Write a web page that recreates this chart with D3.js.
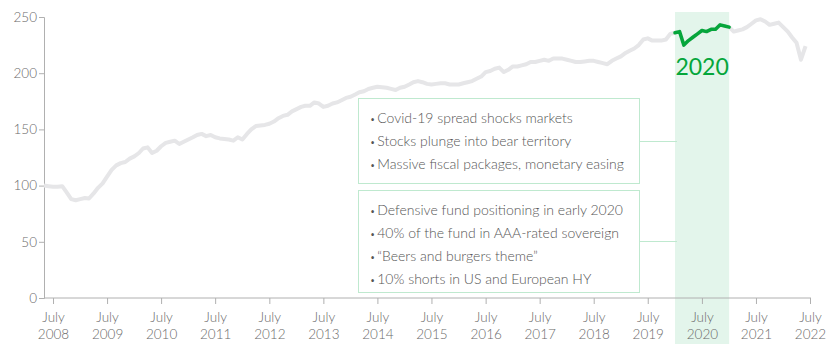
<!DOCTYPE html>
<html><head><meta charset="utf-8">
<script src="https://cdn.jsdelivr.net/npm/d3@7"></script>
<style>
html,body{margin:0;padding:0;background:#fff;}
svg{display:block;font-family:"Lato","Noto Sans",sans-serif;font-weight:300;}
</style></head><body>
<svg id="c" width="834" height="359"></svg>
<script>
const startMonth = "2008-05";
const values = [100,99.5,99,99,99.5,94,88,87,88,89,88.5,93,98,102,108,114,118,120,121,124,126,129,133,134,129,131,135,138,139,140,137,139,141,143,145,146,144,145,143,142,141.5,141,140,143,141,146,150,153,153.5,154,155,157,160,162,163,166,168,170,171,171,174,173,170,171,173,174,176,178,179,181,183,184,186,187,188,187.5,187,186,185,187,188,190,192,193,192,190.5,190,190.5,191,191,190,190,190,191,192,193,195,197,201,202,204,205,201,203,206,206,207,208,210,210,211,212,211,213,213,213,212,211,210,210,210.5,211,211,210,209,208,211,213,215,218,220,222,225,230,231,229,229,229,230,235,236,237,225,229,232,235,238,237,239,239,243,242,241,237,238,239,241,244,247,248,246,243,244,245,241,237,232,227,212,224];
const highlightStart = "2020-01", highlightEnd = "2021-01";
const highlightLabel = "2020";
const yTicks = [0,50,100,150,200,250];
const xTickYears = [2008,2009,2010,2011,2012,2013,2014,2015,2016,2017,2018,2019,2020,2021,2022];
const box1 = ["Covid-19 spread shocks markets","Stocks plunge into bear territory","Massive fiscal packages, monetary easing"];
const box2 = ["Defensive fund positioning in early 2020","40% of the fund in AAA-rated sovereign","\u201CBeers and burgers theme\u201D","10% shorts in US and European HY"];

const parse = d3.timeParse("%Y-%m");
const t0 = parse(startMonth);
const data = values.map((v,i)=>({date:d3.timeMonth.offset(t0,i), v}));
const svg = d3.select("#c");
const x = d3.scaleTime().domain([t0, new Date(2022,6,1)]).range([44,810]);
const y = d3.scaleLinear().domain([0,250]).range([298,17]);

const hs = parse(highlightStart), he = parse(highlightEnd);
svg.append("rect").attr("x",x(hs)).attr("y",12).attr("width",x(he)-x(hs)).attr("height",332).attr("fill","#e3f5eb");

// axes
const gy = svg.append("g").attr("transform","translate(44,0)").call(d3.axisLeft(y).tickValues(yTicks).tickSize(5).tickPadding(2));
const gx = svg.append("g").attr("transform","translate(0,298)").call(d3.axisBottom(x).tickValues(xTickYears.map(yr=>new Date(yr,6,1))).tickSize(6).tickFormat(""));
[gx,gy].forEach(g=>{g.select(".domain").attr("stroke","#b0b0b0");g.selectAll(".tick line").attr("stroke","#b0b0b0");});
gx.select(".domain").attr("d","M44,0H811");
gy.selectAll("text").attr("fill","#6a6a6a").style("font-size","13.5px").style("font-family","Lato").style("font-weight",300);
gx.selectAll(".tick").each(function(d){
  const t = d3.select(this).append("text").attr("fill","#6a6a6a").attr("text-anchor","middle").style("font-size","13.5px").style("font-family","Lato").style("font-weight",300);
  t.append("tspan").attr("x",0).attr("y",24).text("July");
  t.append("tspan").attr("x",0).attr("y",41).text(d.getFullYear());
});

const line = d3.line().x(d=>x(d.date)).y(d=>y(d.v)).curve(d3.curveLinear);
svg.append("path").datum(data).attr("d",line).attr("fill","none").attr("stroke","#e6e6e8").attr("stroke-width",4).attr("stroke-linejoin","round");
const hd = data.filter(d=>d.date>=hs && d.date<=he);
svg.append("path").datum(hd).attr("d",line).attr("fill","none").attr("stroke","#05a63b").attr("stroke-width",3.5).attr("stroke-linejoin","round").attr("stroke-linecap","round");
svg.append("text").attr("x",(x(hs)+x(he))/2).attr("y",75).attr("text-anchor","middle").attr("fill","#05a63b").style("font-size","23px").style("font-weight",400).text(highlightLabel);

function box(lines, top, h, connY){
  svg.append("rect").attr("x",358.5).attr("y",top+0.5).attr("width",281).attr("height",h).attr("fill","#fff").attr("stroke","#bfe9cf").attr("stroke-width",1);
  svg.append("line").attr("x1",640).attr("x2",x(hs)+2).attr("y1",connY+0.5).attr("y2",connY+0.5).attr("stroke","#bfe9cf");
  lines.forEach((s,i)=>{
    const t = svg.append("text").attr("x",370).attr("y",top+25+i*23).attr("fill","#555").style("font-size","14px");
    t.append("tspan").style("font-size","9px").text("\u2022");
    t.append("tspan").attr("dx",2).text(s);
  });
}
box(box1,98,85,141);
box(box2,190,102,241);
</script></body></html>
